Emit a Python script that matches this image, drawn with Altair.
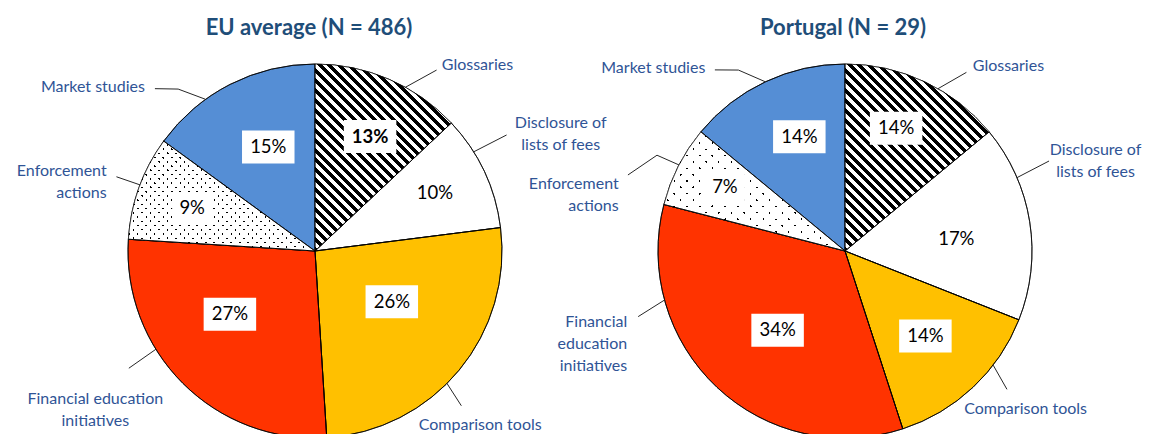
import math
import altair as alt
import pandas as pd

# ---------------- data ----------------
categories = ["Glossaries", "Disclosure of lists of fees", "Comparison tools",
              "Financial education initiatives", "Enforcement actions", "Market studies"]
eu_values = [13, 10, 26, 27, 9, 15]
pt_values = [14, 17, 14, 34, 7, 14]
eu_labels = ["Glossaries", "Disclosure of\nlists of fees", "Comparison tools",
             "Financial education\ninitiatives", "Enforcement\nactions", "Market studies"]
pt_labels = ["Glossaries", "Disclosure of\nlists of fees", "Comparison tools",
             "Financial\neducation\ninitiatives", "Enforcement\nactions", "Market studies"]
eu_title = "EU average (N = 486)"
pt_title = "Portugal (N = 29)"

# ---------------- style / layout ----------------
slice_colors = ["#FFFFFF", "#FFFFFF", "#FFC000", "#FF3300", "#000000", "#558ED5"]
FONT = "Lato"
LABEL_BLUE = "#2F5496"
TITLE_BLUE = "#1F4E79"
W, H = 1136, 426
R = 187
CENTERS = {"EU": (307, 243), "PT": (837, 243)}

# polar layout (angle in degrees clockwise from 12 o'clock, radius in px)
LAYOUT = {
    "EU": {
        "pct": [(25.7, 127), (64.3, 133), (123.4, 92), (233.4, 106), (289.1, 130), (335.8, 114)],
        "leader": [[(28.9, R), (33.9, 218)], [(58.0, R), (58.8, 224)], [(135.1, R), (136.6, 213)],
                   [(238.3, R), (237.8, 220)], [(290.7, R), (290.5, 212)],
                   [(324.2, R), (319.8, 212), (315.4, 228)]],
        "text": [(34.3, 225), (62.5, 277), (136.5, 240), (236.0, 265), (290.9, 223), (313.9, 236)],
        "align": ["left", "center", "center", "center", "right", "right"],
        "bold": [True, False, False, False, False, False],
        "dot_period": 6.0,
        "title_dx": -6,
    },
    "PT": {
        "pct": [(22.6, 133), (83.6, 112), (136.6, 117), (220.4, 104), (298.0, 136), (338.2, 123)],
        "leader": [[(29.8, R), (34.2, 216)], [(66.9, R), (66.2, 223)], [(127.6, R), (130.5, 213)],
                   [(254.8, R), (252.4, 217)], [(297.4, R), (297.0, 211), (289.3, 230)],
                   [(334.8, R), (329.5, 210), (324.3, 223)]],
        "text": [(34.6, 225), (68.1, 270), (131.2, 240), (252.0, 229), (286.5, 236), (322.6, 230)],
        "align": ["left", "center", "center", "right", "right", "right"],
        "bold": [False] * 6,
        "dot_period": 9.0,
        "title_dx": -2,
    },
}
HATCH_PERIOD = 7.0
HATCH_BAND = 3.5
DOT_BAND = 1.5


def polar(cx, cy, ang, r):
    t = math.radians(ang)
    return cx + r * math.sin(t), cy - r * math.cos(t)


def wedge_bbox(a0, a1, r):
    pts = [(0.0, 0.0)]
    angs = [a0, a1] + [k * 90 for k in range(5) if a0 < k * 90 < a1]
    for a in angs:
        t = math.radians(a)
        pts.append((r * math.sin(t), -r * math.cos(t)))
    xs = [p[0] for p in pts]
    ys = [p[1] for p in pts]
    return min(xs), min(ys), max(xs), max(ys)


def stripe_fill(bbox, normal, period, band, band_color, base_color):
    x0, y0, x1, y1 = bbox
    w, h = x1 - x0, y1 - y0
    nl = math.hypot(normal[0], normal[1])
    nx, ny = normal[0] / nl, normal[1] / nl
    ex, ey = nx * w, ny * h
    corners = [(0, 0), (1, 0), (0, 1), (1, 1)]
    proj = [c[0] * ex + c[1] * ey for c in corners]
    i = min(range(4), key=lambda k: proj[k])
    pmin, pmax = min(proj), max(proj)
    L = pmax - pmin
    e2 = ex * ex + ey * ey
    sx, sy = corners[i]
    gx, gy = ex * L / e2, ey * L / e2
    s0 = nx * x0 + ny * y0 + pmin
    bps = {0.0, 1.0}
    k0 = math.floor(s0 / period) - 1
    k1 = math.ceil((s0 + L) / period) + 1
    for k in range(k0, k1 + 1):
        for s in (k * period, k * period + band):
            t = (s - s0) / L
            if 0 < t < 1:
                bps.add(t)
    bps = sorted(bps)
    stops = []
    for a, b in zip(bps[:-1], bps[1:]):
        mid = s0 + (a + b) / 2 * L
        col = band_color if (mid % period) < band else base_color
        stops.append({"offset": round(a, 5), "color": col})
        stops.append({"offset": round(b, 5), "color": col})
    return {"gradient": "linear", "x1": sx, "y1": sy, "x2": round(sx + gx, 5),
            "y2": round(sy + gy, 5), "stops": stops}


def region_layers(key, values, labels, title):
    cx, cy = CENTERS[key]
    lay = LAYOUT[key]
    starts = [sum(values[:i]) for i in range(len(values))]
    ends = [s + v for s, v in zip(starts, values)]
    df = pd.DataFrame({"category": categories, "value": values, "start": starts, "end": ends})
    theta = alt.Theta("start:Q", scale=alt.Scale(domain=[0, 100]))
    theta2 = alt.Theta2("end:Q")
    pos = dict(theta=theta, theta2=theta2, x=alt.value(cx), y=alt.value(cy))

    base = alt.Chart(df).mark_arc(radius=R, stroke="black", strokeWidth=0.75).encode(
        color=alt.Color("category:N", scale=alt.Scale(domain=categories, range=slice_colors), legend=None),
        **pos)

    gi = categories.index("Glossaries")
    gb = wedge_bbox(starts[gi] * 3.6, ends[gi] * 3.6, R)
    hatch = alt.Chart(df).transform_filter(alt.datum.category == "Glossaries").mark_arc(
        radius=R, strokeWidth=0,
        fill=stripe_fill(gb, (1, -1), HATCH_PERIOD, HATCH_BAND, "#000000", "#FFFFFF")).encode(**pos)

    ei = categories.index("Enforcement actions")
    eb = wedge_bbox(starts[ei] * 3.6, ends[ei] * 3.6, R)
    dp = lay["dot_period"]
    dotsA = alt.Chart(df).transform_filter(alt.datum.category == "Enforcement actions").mark_arc(
        radius=R, strokeWidth=0,
        fill=stripe_fill(eb, (1, 1), dp, DOT_BAND, "rgba(255,255,255,0)", "#FFFFFF")).encode(**pos)
    dotsB = alt.Chart(df).transform_filter(alt.datum.category == "Enforcement actions").mark_arc(
        radius=R, strokeWidth=0,
        fill=stripe_fill(eb, (1, -1), dp, DOT_BAND, "rgba(255,255,255,0)", "#FFFFFF")).encode(**pos)

    outline = alt.Chart(df).mark_arc(radius=R, fillOpacity=0, stroke="black", strokeWidth=0.75).encode(**pos)

    # percentage labels
    prow = []
    for c, v, (a, r), b in zip(categories, values, lay["pct"], lay["bold"]):
        x, y = polar(cx, cy, a, r)
        txt = f"{v}%"
        bw = 15 + 12.5 * len(txt)
        prow.append({"category": c, "txt": txt, "lx": x, "ly": y, "bx1": x - bw / 2, "bx2": x + bw / 2,
                     "by1": y - 16.5, "by2": y + 16.5, "bold": b})
    pdf = pd.DataFrame(prow)
    boxes = alt.Chart(pdf).mark_rect(color="white").encode(
        x=alt.X("bx1:Q", scale=None, axis=None), x2="bx2:Q",
        y=alt.Y("by1:Q", scale=None, axis=None), y2="by2:Q")
    ptxt = []
    for bold in (False, True):
        ptxt.append(alt.Chart(pdf).transform_filter(alt.datum.bold == bold).mark_text(
            font=FONT, fontSize=18.5, color="black", fontWeight="bold" if bold else "normal",
            align="center", baseline="middle").encode(
            x=alt.X("lx:Q", scale=None, axis=None), y=alt.Y("ly:Q", scale=None, axis=None), text="txt:N"))

    # leader lines
    lrows = []
    for i, pts in enumerate(lay["leader"]):
        for j, (a, r) in enumerate(pts):
            x, y = polar(cx, cy, a, r)
            lrows.append({"lid": f"{key}{i}", "pi": j, "x": x, "y": y})
    leaders = alt.Chart(pd.DataFrame(lrows)).mark_line(color="#262626", strokeWidth=1).encode(
        x=alt.X("x:Q", scale=None, axis=None), y=alt.Y("y:Q", scale=None, axis=None),
        detail="lid:N", order="pi:Q")

    # category labels
    trows = []
    for lab, (a, r), al in zip(labels, lay["text"], lay["align"]):
        x, y = polar(cx, cy, a, r)
        trows.append({"lab": lab, "x": x, "y": y, "al": al})
    tdf = pd.DataFrame(trows)
    ctext = []
    for al in ("left", "center", "right"):
        ctext.append(alt.Chart(tdf).transform_filter(alt.datum.al == al).mark_text(
            font=FONT, fontSize=16, color=LABEL_BLUE, align=al, baseline="middle",
            lineBreak="\n", lineHeight=22).encode(
            x=alt.X("x:Q", scale=None, axis=None), y=alt.Y("y:Q", scale=None, axis=None), text="lab:N"))

    tt = alt.Chart(pd.DataFrame({"t": [title], "x": [cx + lay["title_dx"]], "y": [20]})).mark_text(
        font=FONT, fontSize=22, fontWeight="bold", color=TITLE_BLUE, align="center", baseline="middle").encode(
        x=alt.X("x:Q", scale=None, axis=None), y=alt.Y("y:Q", scale=None, axis=None), text="t:N")

    return [base, hatch, dotsA, dotsB, outline, boxes] + ptxt + [leaders] + ctext + [tt]


layers = region_layers("EU", eu_values, eu_labels, eu_title) + region_layers("PT", pt_values, pt_labels, pt_title)

chart = alt.layer(*layers).properties(
    width=W, height=H, padding=0, autosize=alt.AutoSizeParams(type="none"),
    background="white").configure_view(stroke=None)

chart.save("out.html", embed_options={"renderer": "svg", "actions": False})
